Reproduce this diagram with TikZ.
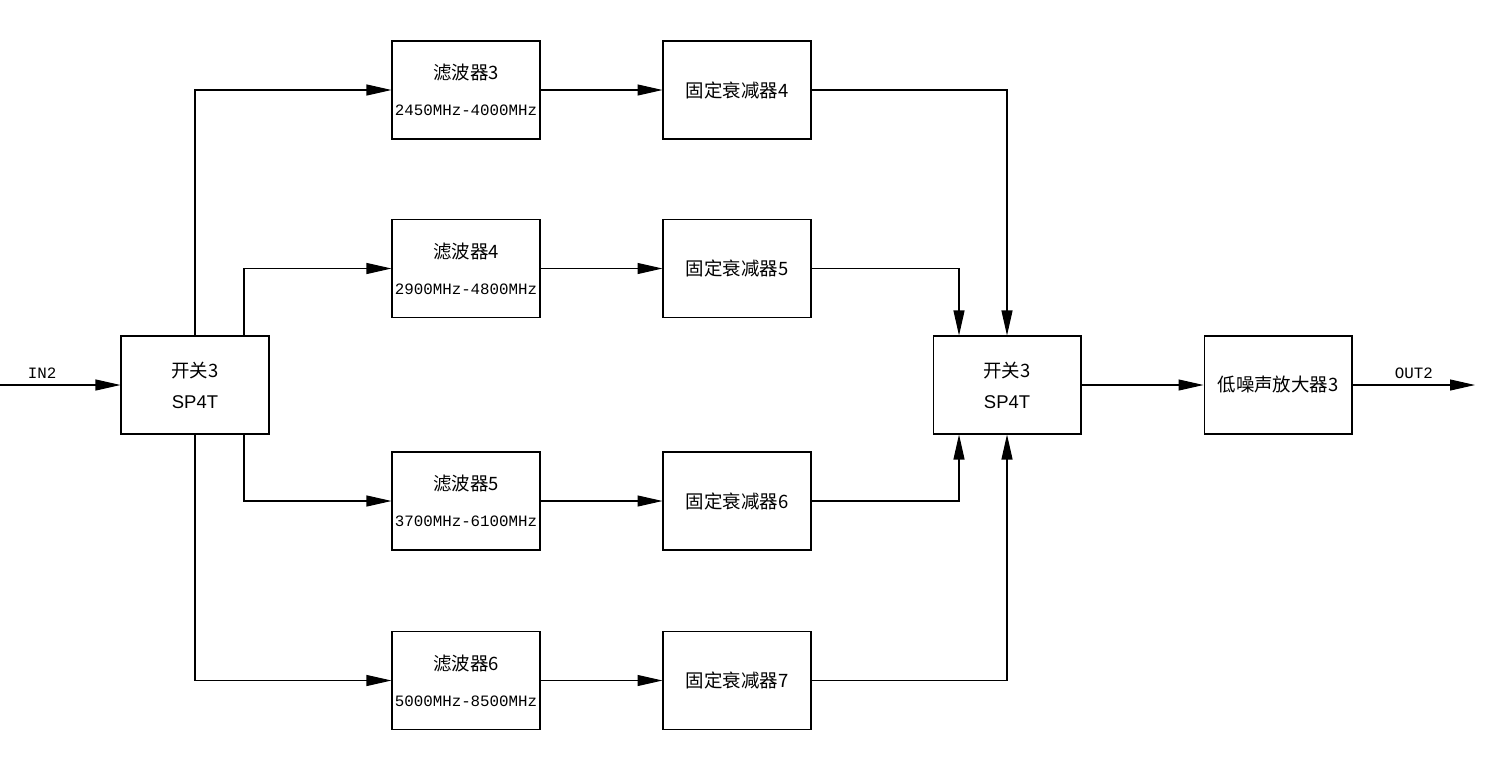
\documentclass[tikz,border=0pt]{standalone}
\usepackage{fontspec}
\setmainfont{Liberation Serif}
\newfontfamily\cjk{Noto Sans CJK SC}
\newfontfamily\sansf{Liberation Sans}
\newfontfamily\monof{Liberation Mono}
\usetikzlibrary{arrows.meta}
\tikzset{
  blk/.style={draw, line width=0.6pt, minimum width=2.96cm, minimum height=1.96cm,
    inner sep=1pt, align=center, font=\cjk\fontsize{10.5}{12.6}\selectfont},
  sig/.style={line width=0.6pt, -{Triangle[length=0.5cm,width=0.22cm]}},
  lbl/.style={font=\monof\fontsize{9}{11}\selectfont}
}
\newcommand{\band}[1]{{\monof\fontsize{9}{11}\selectfont #1}}

\begin{document}
\begin{tikzpicture}[x=0.02cm,y=-0.02cm]
      \useasboundingbox (0,0) rectangle (1487,765);

      % switches and amplifier
      \node[blk] (sw1) at (195,385) {开关3\\[5pt]{\sansf SP4T}};
      \node[blk] (sw2) at (1007,385) {开关3\\[5pt]{\sansf SP4T}};
      \node[blk] (lna) at (1278,385) {低噪声放大器3};

      % filters
      \node[blk] (flt3) at (466,90) {滤波器3\\[7.8pt]\band{2450MHz-4000MHz}};
      \node[blk] (flt4) at (466,268.5) {滤波器4\\[7.8pt]\band{2900MHz-4800MHz}};
      \node[blk] (flt5) at (466,501) {滤波器5\\[7.8pt]\band{3700MHz-6100MHz}};
      \node[blk] (flt6) at (466,680.5) {滤波器6\\[7.8pt]\band{5000MHz-8500MHz}};

      % attenuators
      \node[blk] (att4) at (737,90) {固定衰减器4};
      \node[blk] (att5) at (737,268.5) {固定衰减器5};
      \node[blk] (att6) at (737,501) {固定衰减器6};
      \node[blk] (att7) at (737,680.5) {固定衰减器7};

      \coordinate (in) at (0,385);
      \coordinate (out) at (1475,385);

      \draw[sig] (in) -- node[lbl, above, pos=0.35] {IN2} (sw1);
      \draw[sig] (sw1.north) |- (flt3);
      \draw[sig] ([xshift=0.98cm]sw1.north) |- (flt4);
      \draw[sig] ([xshift=0.98cm]sw1.south) |- (flt5);
      \draw[sig] (sw1.south) |- (flt6);

      \draw[sig] (flt3) -- (att4);
      \draw[sig] (flt4) -- (att5);
      \draw[sig] (flt5) -- (att6);
      \draw[sig] (flt6) -- (att7);

      \draw[sig] (att4) -| (sw2.north);
      \draw[sig] (att5) -| ([xshift=-0.96cm]sw2.north);
      \draw[sig] (att6) -| ([xshift=-0.96cm]sw2.south);
      \draw[sig] (att7) -| (sw2.south);

      \draw[sig] (sw2) -- (lna);
      \draw[sig] (lna) -- node[lbl, above] {OUT2} (out);
    \end{tikzpicture}
\end{document}
